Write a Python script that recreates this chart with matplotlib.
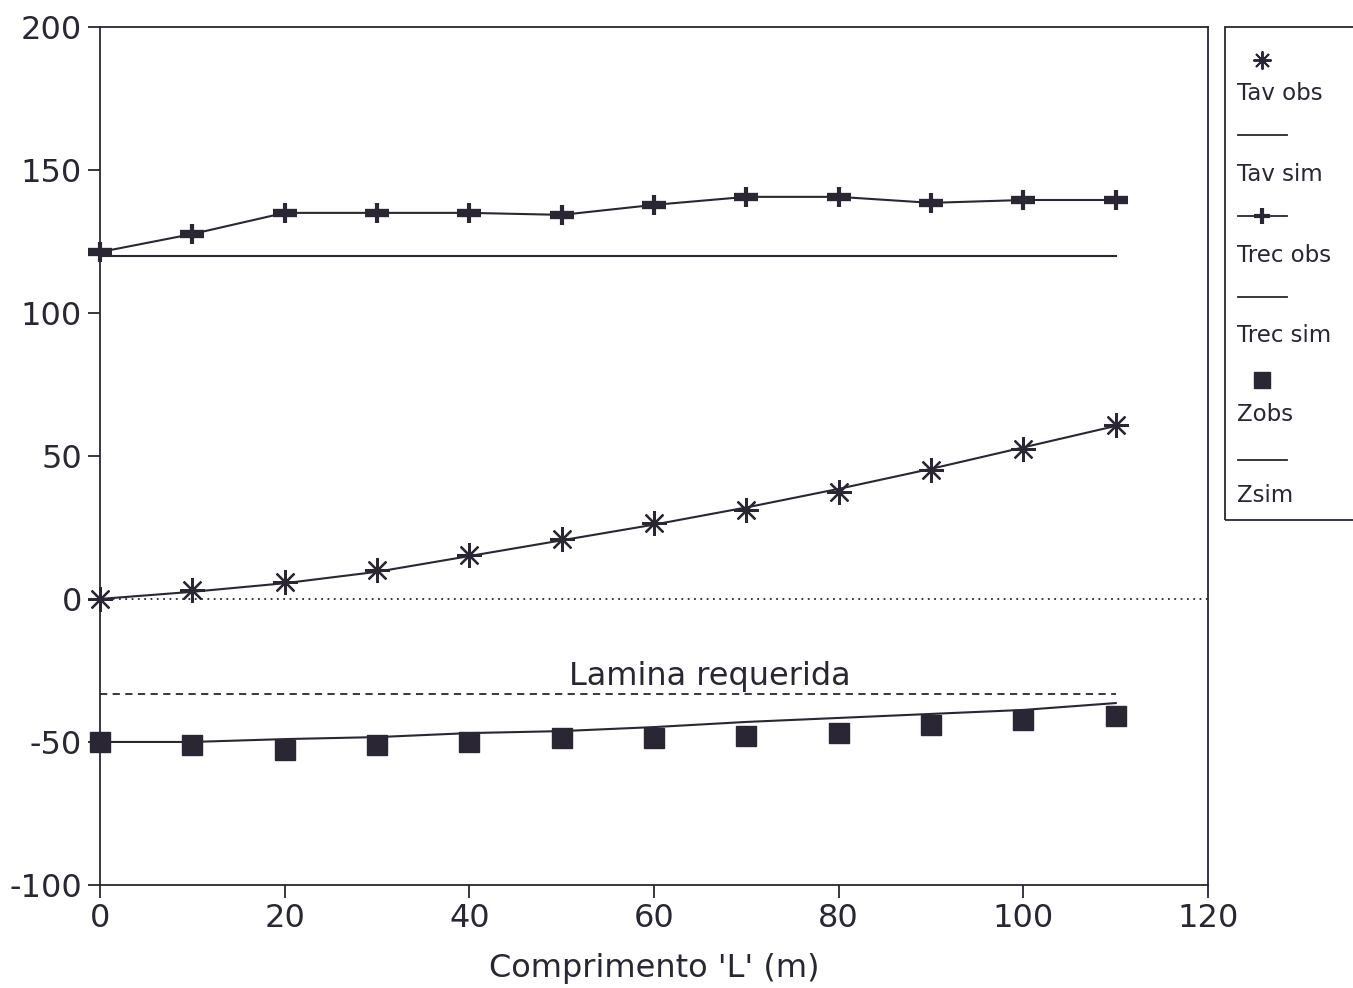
import matplotlib.pyplot as plt
from matplotlib.lines import Line2D
from matplotlib.patches import Rectangle

plt.rcParams['font.family'] = ['DejaVu Sans']
plt.rcParams['axes.unicode_minus'] = False

# Dados
comprimento = [0, 10, 20, 30, 40, 50, 60, 70, 80, 90, 100, 110]
tav_obs = [0, 3, 6, 10, 15.4, 21, 26.6, 31, 37.4, 45, 52.4, 60.8]
tav_sim = [0, 2.5, 5.5, 9.5, 15, 20.5, 26, 32, 38.5, 45.5, 53, 60.5]
trec_obs = [121.3, 127.6, 135, 135, 135, 134.3, 137.8, 140.6, 140.6, 138.5, 139.5, 139.5]
trec_sim = [120] * 12
z_obs = [-50, -51, -52.8, -51, -50, -48.6, -48.6, -48, -47, -44, -42.3, -41]
z_sim = [-50, -50, -49, -48.3, -46.9, -46.2, -44.8, -43, -41.6, -40.2, -38.8, -36.4]
lamina_x = [0, 110]
lamina_y = [-33.2, -33.2]

cor = '#2a2633'
asterisco = (8, 2, 0)

fig = plt.figure(figsize=(13.53, 9.88), dpi=100)
ax = fig.add_axes([0.0739, 0.1043, 0.8190, 0.8684])

ax.plot(comprimento, tav_sim, color=cor, lw=1.5)
ax.plot(comprimento, tav_obs, ls='none', marker=asterisco, ms=18, mew=1.6,
        color=cor, clip_on=False)
ax.plot(comprimento, trec_obs, color=cor, lw=1.5, marker='+', ms=14, mew=3,
        clip_on=False)
# barra horizontal mais grossa do marcador "+"
ax.plot(comprimento, trec_obs, ls='none', marker='_', ms=17, mew=6,
        color=cor, clip_on=False)
ax.plot(comprimento, trec_sim, color=cor, lw=1.5)
ax.plot(comprimento, z_sim, color=cor, lw=1.5)
ax.plot(comprimento, z_obs, ls='none', marker='s', ms=14, color=cor,
        clip_on=False)
ax.plot(lamina_x, lamina_y, color=cor, lw=1.3, ls=(0, (4, 3)))
ax.axhline(0, color=cor, lw=1.3, ls=(0, (1, 2.5)))
ax.text(66, -27, 'Lamina requerida', ha='center', va='center',
        fontsize=23, color=cor)

ax.set_xlim(0, 120)
ax.set_ylim(-100, 200)
ax.set_xticks(range(0, 121, 20))
ax.set_yticks(range(-100, 201, 50))
ax.tick_params(labelsize=23, length=9, width=1.3, colors=cor, pad=4)
for s in ax.spines.values():
    s.set_color(cor)
    s.set_linewidth(1.3)
ax.set_xlabel("Comprimento 'L' (m)", fontsize=23, color=cor, labelpad=14)

# Legenda: simbolo acima do rotulo, desenhada a mao
W, H = 1353, 988


def fx(px):
    return px / W


def fy(py):
    return 1 - py / H


fig.add_artist(Rectangle((fx(1225), fy(520)), fx(140), (520 - 27) / H,
                         transform=fig.transFigure, fill=False,
                         edgecolor=cor, lw=1.3, clip_on=False))
itens = [
    ('Tav obs', dict(ls='none', marker=asterisco, ms=13, mew=1.4), 60, 93),
    ('Tav sim', dict(ls='-'), 135, 174),
    ('Trec obs', dict(ls='-', marker='+', ms=11, mew=3, markevery=[1]), 216, 255),
    ('Trec sim', dict(ls='-'), 297, 335),
    ('Zobs', dict(ls='none', marker='s', ms=11), 380, 414),
    ('Zsim', dict(ls='-'), 460, 495),
]
for rotulo, estilo, yh, yt in itens:
    if estilo['ls'] == 'none':
        xs, ys = [fx(1262)], [fy(yh)]
    else:
        xs, ys = [fx(1238), fx(1262), fx(1287)], [fy(yh)] * 3
    fig.add_artist(Line2D(xs, ys, transform=fig.transFigure, color=cor,
                          lw=1.3, **{k: v for k, v in estilo.items()
                                     if k != 'ls'},
                          linestyle=estilo['ls']))
    fig.text(fx(1237), fy(yt), rotulo, fontsize=16.5, color=cor,
             ha='left', va='center')

fig.savefig('out.png', dpi=100, facecolor='white')
